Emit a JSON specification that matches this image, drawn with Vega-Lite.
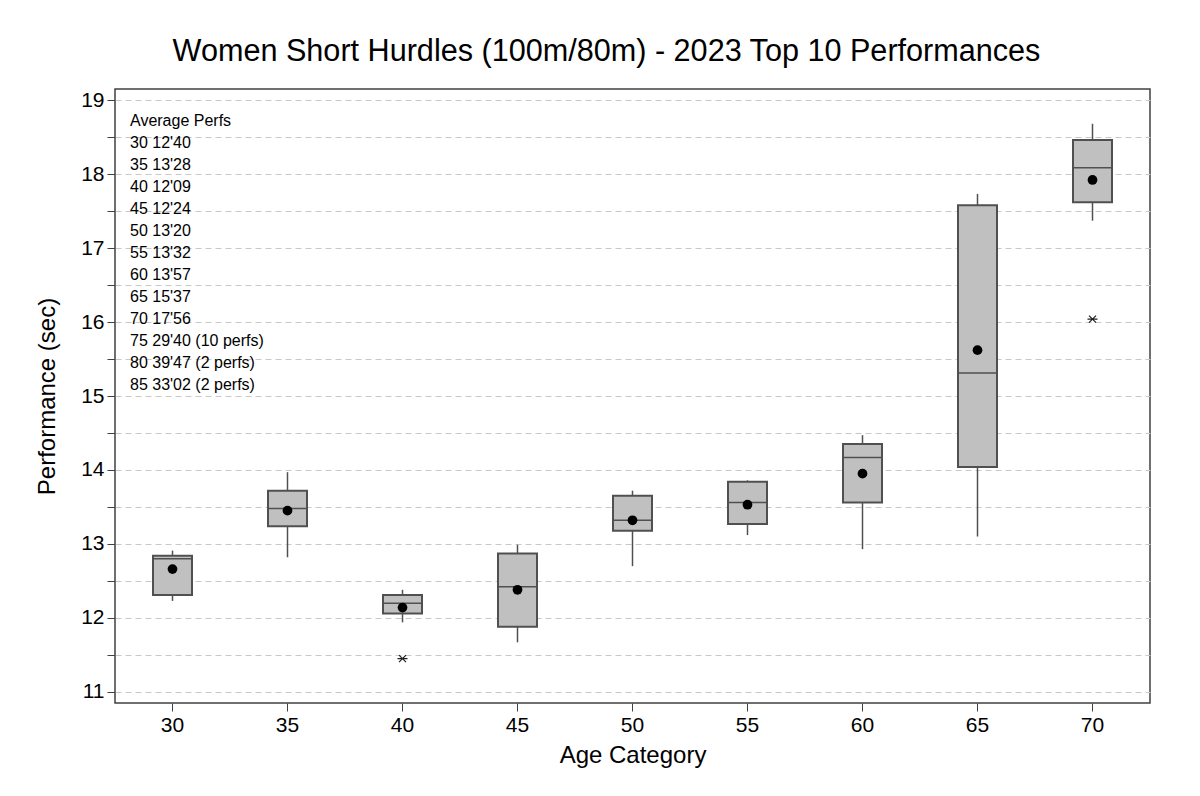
{
  "$schema": "https://vega.github.io/schema/vega-lite/v6.json",
  "autosize": {"type": "none"},
  "padding": {"left": 115, "top": 89, "right": 50, "bottom": 93},
  "width": 1035,
  "height": 614,
  "background": "white",
  "title": {"text": "Women Short Hurdles (100m/80m) - 2023 Top 10 Performances", "font": "Liberation Sans", "fontSize": 30.6, "fontWeight": "normal", "color": "black", "anchor": "middle", "dx": -26, "offset": 21},
  "config": {
    "view": {"stroke": "#404040", "strokeWidth": 1.5},
    "font": "Liberation Sans",
    "axisY": {"values": [11, 11.5, 12, 12.5, 13, 13.5, 14, 14.5, 15, 15.5, 16, 16.5, 17, 17.5, 18, 18.5, 19], "labelExpr": "datum.value % 1 === 0 ? format(datum.value, 'd') : ''", "labelOverlap": false, "labelFlush": false, "grid": true, "gridDash": [6, 4], "gridColor": "#c8c8c8", "gridWidth": 1, "ticks": true, "tickColor": "#404040", "tickSize": 8, "tickWidth": 1, "labelFontSize": 21, "labelColor": "black", "labelPadding": 3, "domain": false, "titleFontSize": 24, "titleFontWeight": "normal", "titleColor": "black", "titlePadding": 21}
  },
  "datasets": {
    "boxes": [
      {"age": "30", "wlo": 12.23, "q1": 12.31, "med": 12.80, "q3": 12.84, "whi": 12.91, "mean": 12.66},
      {"age": "35", "wlo": 12.82, "q1": 13.24, "med": 13.48, "q3": 13.72, "whi": 13.97, "mean": 13.45},
      {"age": "40", "wlo": 11.94, "q1": 12.06, "med": 12.20, "q3": 12.31, "whi": 12.38, "mean": 12.14},
      {"age": "45", "wlo": 11.67, "q1": 11.88, "med": 12.42, "q3": 12.87, "whi": 12.99, "mean": 12.38},
      {"age": "50", "wlo": 12.70, "q1": 13.18, "med": 13.32, "q3": 13.65, "whi": 13.72, "mean": 13.32},
      {"age": "55", "wlo": 13.12, "q1": 13.27, "med": 13.56, "q3": 13.84, "whi": 13.86, "mean": 13.53},
      {"age": "60", "wlo": 12.93, "q1": 13.56, "med": 14.17, "q3": 14.35, "whi": 14.47, "mean": 13.95},
      {"age": "65", "wlo": 13.10, "q1": 14.04, "med": 15.31, "q3": 17.58, "whi": 17.73, "mean": 15.62},
      {"age": "70", "wlo": 17.37, "q1": 17.62, "med": 18.085, "q3": 18.46, "whi": 18.68, "mean": 17.92}
    ],
    "outliers": [
      {"age": "40", "value": 11.45},
      {"age": "70", "value": 16.04}
    ],
    "notes": [
      {"age": "30", "note": "Average Perfs\n30 12'40\n35 13'28\n40 12'09\n45 12'24\n50 13'20\n55 13'32\n60 13'57\n65 15'37\n70 17'56\n75 29'40 (10 perfs)\n80 39'47 (2 perfs)\n85 33'02 (2 perfs)"}
    ]
  },
  "encoding": {
    "x": {
      "field": "age", "type": "nominal", "sort": ["30","35","40","45","50","55","60","65","70"],
      "scale": {"domain": ["30","35","40","45","50","55","60","65","70"], "paddingInner": 0, "paddingOuter": 0},
      "title": "Age Category",
      "axis": {"labelAngle": 0, "labelFontSize": 21, "labelColor": "black", "labelPadding": 3, "tickSize": 8, "tickColor": "#404040", "tickWidth": 1, "domain": false, "grid": false, "titleFontSize": 24, "titleFontWeight": "normal", "titleColor": "black", "titlePadding": 8}
    }
  },
  "layer": [
    {
      "data": {"name": "boxes"},
      "mark": {"type": "rule", "color": "#505050", "strokeWidth": 1.5},
      "encoding": {
        "y": {
          "field": "wlo", "type": "quantitative", "title": "Performance (sec)",
          "scale": {"domain": [10.85, 19.15], "nice": false, "zero": false}
        },
        "y2": {"field": "whi"}
      }
    },
    {
      "data": {"name": "boxes"},
      "mark": {"type": "bar", "size": 39, "fill": "#c0c0c0", "stroke": "#505050", "strokeWidth": 2},
      "encoding": {
        "y": {"field": "q1", "type": "quantitative", "title": "Performance (sec)"},
        "y2": {"field": "q3"}
      }
    },
    {
      "data": {"name": "boxes"},
      "mark": {"type": "tick", "size": 39, "thickness": 1.5, "color": "#505050", "opacity": 1},
      "encoding": {
        "y": {"field": "med", "type": "quantitative", "title": "Performance (sec)"}
      }
    },
    {
      "data": {"name": "boxes"},
      "mark": {"type": "point", "shape": "circle", "filled": true, "color": "black", "size": 95, "opacity": 1},
      "encoding": {
        "y": {"field": "mean", "type": "quantitative", "title": "Performance (sec)"}
      }
    },
    {
      "data": {"name": "outliers"},
      "mark": {"type": "point", "shape": "M-1,0L1,0M-0.7,-0.7L0.7,0.7M-0.7,0.7L0.7,-0.7", "filled": false, "stroke": "#202020", "strokeWidth": 1.2, "size": 100, "opacity": 1},
      "encoding": {
        "y": {"field": "value", "type": "quantitative", "title": "Performance (sec)"}
      }
    },
    {
      "data": {"name": "notes"},
      "mark": {"type": "text", "align": "left", "baseline": "alphabetic", "lineBreak": "\n", "lineHeight": 22, "fontSize": 16, "font": "Liberation Sans", "color": "black", "dx": 15},
      "encoding": {
        "x": {"field": "age", "type": "nominal", "bandPosition": 0},
        "y": {"datum": 18.654, "type": "quantitative"},
        "text": {"field": "note"}
      }
    }
  ]
}
